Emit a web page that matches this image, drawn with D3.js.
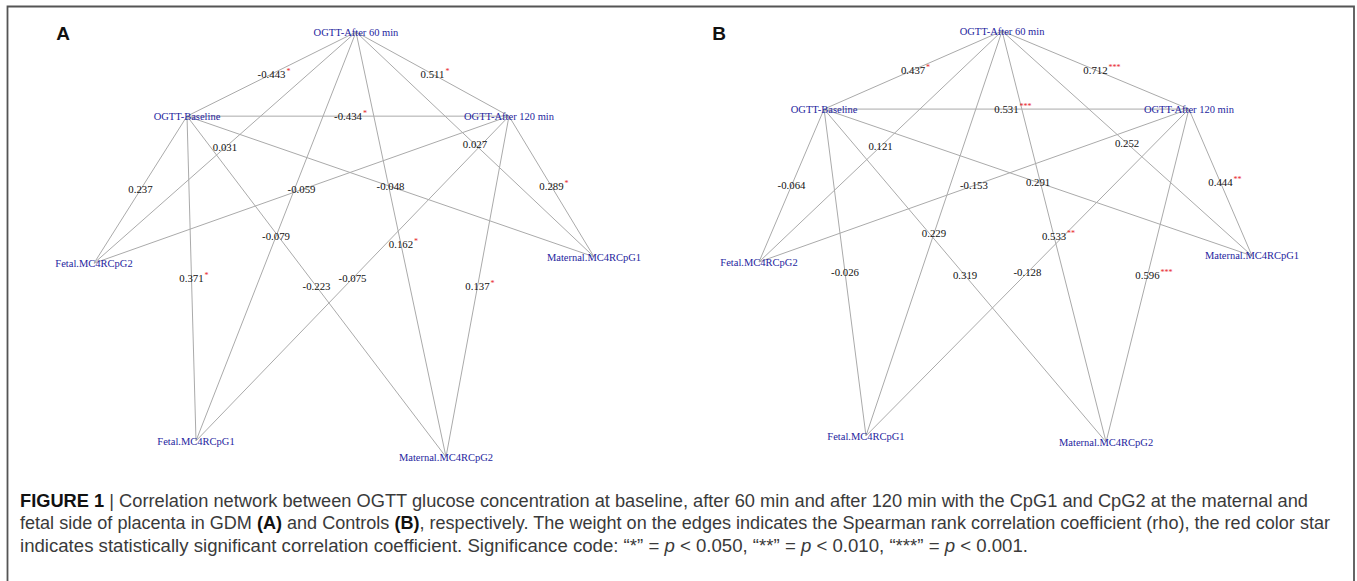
<!DOCTYPE html>
<html>
<head>
<meta charset="utf-8">
<script src="https://cdn.jsdelivr.net/npm/d3@7/dist/d3.min.js"></script>
<style>
  html, body { margin: 0; padding: 0; background: #fff; }
  svg { display: block; }
</style>
</head>
<body>
<svg id="fig" width="1357" height="581"></svg>
<script>
// ---- Data -------------------------------------------------------------
const nodeNames = [
  "OGTT-Baseline", "OGTT-After 60 min", "OGTT-After 120 min",
  "Fetal.MC4RCpG1", "Fetal.MC4RCpG2", "Maternal.MC4RCpG1", "Maternal.MC4RCpG2"
];

// Edge endpoints (indices into nodeNames)
const edgeFrom = [0, 1, 0, 0, 0, 0, 0, 1, 1, 1, 1, 2, 2, 2, 2];
const edgeTo   = [1, 2, 2, 4, 3, 5, 6, 4, 3, 5, 6, 4, 3, 5, 6];

// Spearman rho and significance code per edge, GDM (A)
const rhoGDM = [-0.443, 0.511, -0.434, 0.237, 0.371, -0.048, -0.223, 0.031, -0.079, 0.027, 0.162, -0.059, -0.075, 0.289, 0.137];
const sigGDM = ["*", "*", "*", "", "*", "", "", "", "", "", "*", "", "", "*", "*"];

// Spearman rho and significance code per edge, Controls (B)
const rhoControl = [0.437, 0.712, 0.531, -0.064, -0.026, 0.291, 0.319, 0.121, 0.229, 0.252, 0.533, -0.153, -0.128, 0.444, 0.596];
const sigControl = ["*", "***", "***", "", "", "", "", "", "", "", "**", "", "", "**", "***"];

// Network layout coordinates (0-100 grid) for each panel
const layoutA = [[18.6, 19.8], [52.4, 0], [83, 19.8], [20.4, 96.2], [0, 54.4], [100, 52.9], [70.4, 100]];
const layoutB = [[13.2, 19.0], [49.3, 0], [87.2, 19.0], [21.7, 98.5], [0, 56.2], [100, 54.7], [70.4, 100]];

// ---- Drawing ----------------------------------------------------------
const svg = d3.select("#fig");
svg.append("rect").attr("width", 1357).attr("height", 581).attr("fill", "#fff");

// frame
svg.append("path")
  .attr("d", "M7.5,581 V6.5 H1354 V581")
  .attr("fill", "none")
  .attr("stroke", "#555")
  .attr("stroke-width", 1.8);

function drawPanel(letter, letterX, layout, rho, sig, xRange, yRange) {
  const x = d3.scaleLinear().domain([0, 100]).range(xRange);
  const y = d3.scaleLinear().domain([0, 100]).range(yRange);
  const g = svg.append("g");
  const pos = layout.map(p => [x(p[0]), y(p[1])]);

  const edges = edgeFrom.map((f, i) => ({ s: pos[f], t: pos[edgeTo[i]], r: rho[i], k: sig[i] }));

  g.selectAll("line.edge").data(edges).enter().append("line")
    .attr("class", "edge")
    .attr("x1", d => d.s[0]).attr("y1", d => d.s[1])
    .attr("x2", d => d.t[0]).attr("y2", d => d.t[1])
    .attr("stroke", "#aaa").attr("stroke-width", 1);

  const lab = g.selectAll("g.elab").data(edges).enter().append("g")
    .attr("class", "elab")
    .attr("transform", d => `translate(${(d.s[0] + d.t[0]) / 2},${(d.s[1] + d.t[1]) / 2})`);
  lab.append("text")
    .attr("text-anchor", "middle")
    .attr("dy", "0.35em")
    .attr("font-family", "'Liberation Serif', 'Times New Roman', serif")
    .attr("font-size", 10.8)
    .attr("fill", "#111")
    .text(d => d.r.toFixed(3));
  lab.append("text")
    .attr("x", d => d.r < 0 ? 15 : 13)
    .attr("y", -0.5)
    .attr("font-family", "'Liberation Serif', serif")
    .attr("font-size", 8)
    .attr("fill", "#e8231f")
    .text(d => d.k);

  g.selectAll("text.node").data(nodeNames).enter().append("text")
    .attr("class", "node")
    .attr("x", (d, i) => pos[i][0])
    .attr("y", (d, i) => pos[i][1])
    .attr("dy", "0.35em")
    .attr("text-anchor", "middle")
    .attr("font-family", "'Liberation Serif', 'Times New Roman', serif")
    .attr("font-size", 10.5)
    .attr("fill", "#1e1e9e")
    .text(d => d);

  svg.append("text")
    .attr("x", letterX).attr("y", 40)
    .attr("text-anchor", "middle")
    .attr("font-family", "'Liberation Sans', Arial, sans-serif")
    .attr("font-weight", "bold")
    .attr("font-size", 19)
    .attr("fill", "#111")
    .text(letter);
}

drawPanel("A", 63, layoutA, rhoGDM, sigGDM, [94, 594], [32, 457]);
drawPanel("B", 719, layoutB, rhoControl, sigControl, [759, 1252], [31, 442]);

// ---- Caption ----------------------------------------------------------
const captionLines = [
  [["FIGURE 1", "b"], [" | ", ""], ["Correlation network between OGTT glucose concentration at baseline, after 60 min and after 120 min with the CpG1 and CpG2 at the maternal and", ""]],
  [["fetal side of placenta in GDM ", ""], ["(A)", "b"], [" and Controls ", ""], ["(B)", "b"], [", respectively. The weight on the edges indicates the Spearman rank correlation coefficient (rho), the red color star", ""]],
  [["indicates statistically significant correlation coefficient. Significance code: \u201c*\u201d = ", ""], ["p", "i"], [" < 0.050, \u201c**\u201d = ", ""], ["p", "i"], [" < 0.010, \u201c***\u201d = ", ""], ["p", "i"], [" < 0.001.", ""]]
];
const captionWidths = [1288, 1310, 1008];
const captionY = [507, 529, 552];

captionLines.forEach((parts, li) => {
  const t = svg.append("text")
    .attr("x", 20).attr("y", captionY[li])
    .attr("font-family", "'Liberation Sans', Arial, sans-serif")
    .attr("font-size", 17.5)
    .attr("fill", "#3a3a3a")
    .attr("textLength", captionWidths[li])
    .attr("lengthAdjust", "spacingAndGlyphs");
  parts.forEach(([s, st]) => {
    t.append("tspan")
      .attr("font-weight", st === "b" ? "bold" : null)
      .attr("font-style", st === "i" ? "italic" : null)
      .attr("fill", st === "b" ? "#111" : null)
      .text(s);
  });
});
</script>
</body>
</html>
